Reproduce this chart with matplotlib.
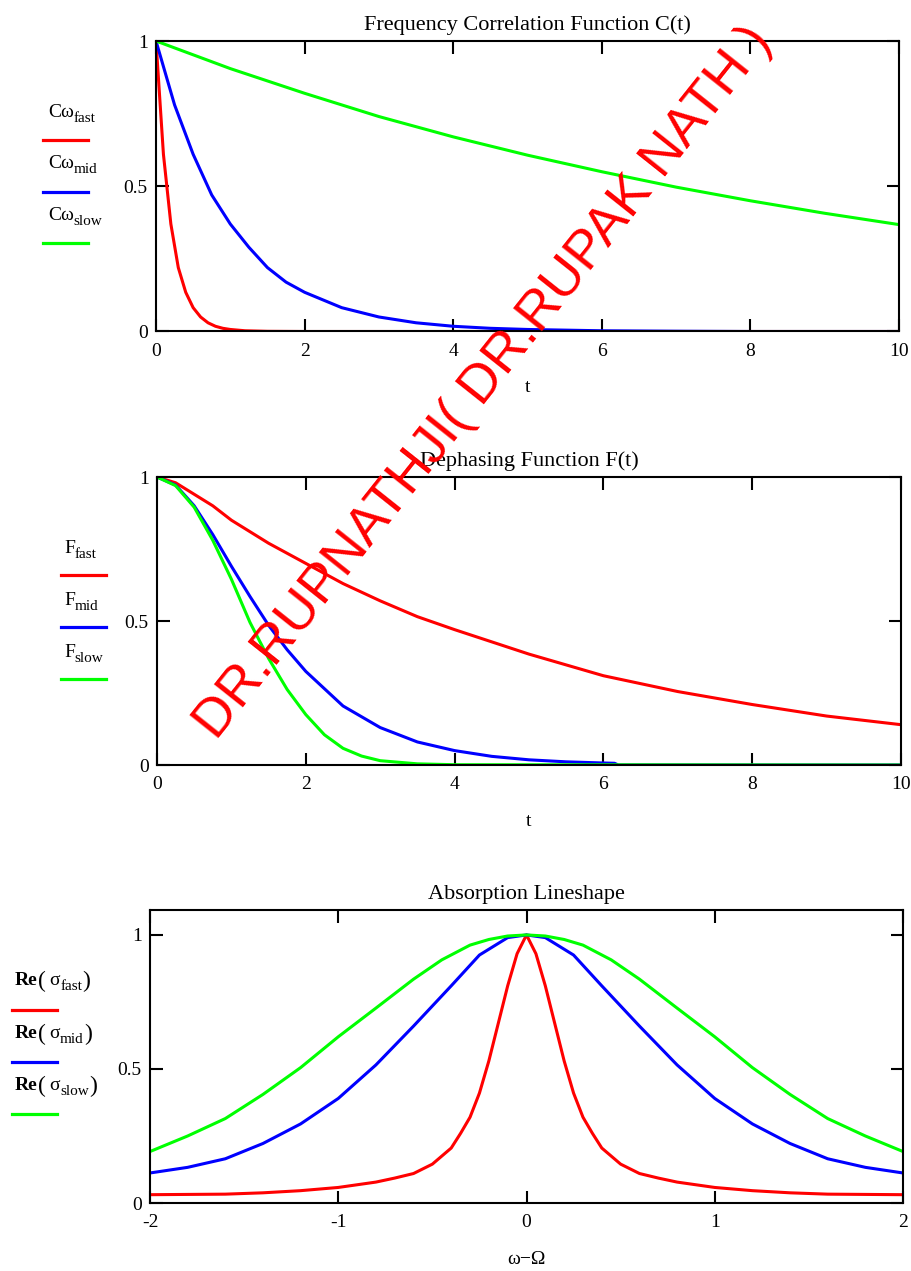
import matplotlib
matplotlib.use("Agg")
import matplotlib.pyplot as plt
from matplotlib.lines import Line2D

plt.rcParams.update({
    "font.family": "Liberation Serif",
    "axes.unicode_minus": False,
})

RED, BLUE, GREEN = "#FF0000", "#0000FF", "#00FF00"

# ---------- data -----------------------------------------------------------
# frequency correlation function C(t)
t_c_fast = [0, 0.1, 0.2, 0.3, 0.4, 0.5, 0.6, 0.7, 0.8, 0.9, 1.0, 1.2, 1.5, 2, 10]
c_fast = [1, 0.61, 0.37, 0.22, 0.135, 0.082, 0.05, 0.03, 0.018, 0.011, 0.007,
          0.0025, 0.0006, 0, 0]
t_c_mid = [0, 0.25, 0.5, 0.75, 1, 1.25, 1.5, 1.75, 2, 2.5, 3, 3.5, 4, 4.5, 5,
           6, 7, 8, 10]
c_mid = [1, 0.78, 0.61, 0.47, 0.37, 0.29, 0.22, 0.17, 0.135, 0.082, 0.05, 0.03,
         0.018, 0.011, 0.007, 0.0025, 0.001, 0, 0]
t_c_slow = [0, 1, 2, 3, 4, 5, 6, 7, 8, 9, 10]
c_slow = [1, 0.905, 0.82, 0.74, 0.67, 0.607, 0.55, 0.497, 0.45, 0.407, 0.368]

# dephasing function F(t)
t_f_fast = [0, 0.25, 0.5, 0.75, 1, 1.5, 2, 2.5, 3, 3.5, 4, 5, 6, 7, 8, 9, 10]
f_fast = [1, 0.98, 0.94, 0.90, 0.85, 0.77, 0.70, 0.63, 0.57, 0.515, 0.47,
          0.385, 0.31, 0.255, 0.21, 0.17, 0.14]
t_f_mid = [0, 0.25, 0.5, 0.75, 1, 1.25, 1.5, 1.75, 2, 2.5, 3, 3.5, 4, 4.5, 5,
           5.5, 6, 6.15, 6.2, 10]
f_mid = [1, 0.972, 0.90, 0.80, 0.69, 0.585, 0.485, 0.40, 0.325, 0.205, 0.13,
         0.08, 0.05, 0.03, 0.018, 0.011, 0.007, 0.006, 0, 0]
t_f_slow = [0, 0.25, 0.5, 0.75, 1, 1.25, 1.5, 1.75, 2, 2.25, 2.5, 2.75, 3, 3.5,
            4, 10]
f_slow = [1, 0.97, 0.895, 0.78, 0.645, 0.495, 0.37, 0.262, 0.175, 0.105, 0.058,
          0.031, 0.015, 0.004, 0.001, 0]

# absorption lineshape Re(sigma)
w_fast = [-2, -1.6, -1.4, -1.2, -1.0, -0.8, -0.7, -0.6, -0.5, -0.4, -0.35, -0.3,
          -0.25, -0.2, -0.15, -0.1, -0.05, 0, 0.05, 0.1, 0.15, 0.2, 0.25, 0.3,
          0.35, 0.4, 0.5, 0.6, 0.7, 0.8, 1.0, 1.2, 1.4, 1.6, 2]
s_fast = [0.031, 0.033, 0.038, 0.046, 0.058, 0.078, 0.093, 0.11, 0.145, 0.205,
          0.26, 0.32, 0.41, 0.53, 0.67, 0.81, 0.93, 1.0, 0.93, 0.81, 0.67, 0.53,
          0.41, 0.32, 0.26, 0.205, 0.145, 0.11, 0.093, 0.078, 0.058, 0.046,
          0.038, 0.033, 0.031]
w_mid = [-2, -1.8, -1.6, -1.4, -1.2, -1.0, -0.8, -0.6, -0.4, -0.25, -0.1, 0,
         0.1, 0.25, 0.4, 0.6, 0.8, 1.0, 1.2, 1.4, 1.6, 1.8, 2]
s_mid = [0.112, 0.133, 0.165, 0.222, 0.295, 0.39, 0.515, 0.66, 0.81, 0.925,
         0.99, 1.0, 0.99, 0.925, 0.81, 0.66, 0.515, 0.39, 0.295, 0.222, 0.165,
         0.133, 0.112]
w_slow = [-2, -1.8, -1.6, -1.4, -1.2, -1.0, -0.8, -0.6, -0.45, -0.3, -0.2, -0.1,
          0, 0.1, 0.2, 0.3, 0.45, 0.6, 0.8, 1.0, 1.2, 1.4, 1.6, 1.8, 2]
s_slow = [0.192, 0.25, 0.315, 0.405, 0.505, 0.62, 0.727, 0.835, 0.907, 0.962,
          0.983, 0.996, 1.0, 0.996, 0.983, 0.962, 0.907, 0.835, 0.727, 0.62,
          0.505, 0.405, 0.315, 0.25, 0.192]

W, H = 912, 1271
fig = plt.figure(figsize=(W / 100, H / 100), dpi=100, facecolor="white")
renderer = fig.canvas.get_renderer()


def box(l, t, r, b):
    return [l / W, 1 - b / H, (r - l) / W, (b - t) / H]


def style(ax, xt, yt, xlim, ylim, title, xlabel):
    ax.set_xlim(*xlim); ax.set_ylim(*ylim)
    ax.set_xticks(xt); ax.set_yticks(yt)
    ax.set_xticklabels([f"{v:g}" for v in xt])
    ax.set_yticklabels([f"{v:g}" for v in yt])
    ax.tick_params(direction="in", length=9, width=1.5, top=True, right=True,
                   labelsize=14, color="black")
    ax.tick_params(axis="x", pad=8)
    ax.tick_params(axis="y", pad=6)
    for sp in ax.spines.values():
        sp.set_linewidth(1.5)
    ax.set_title(title, fontsize=16, pad=8)
    ax.set_xlabel(xlabel, fontsize=14, labelpad=14)


def label(x, base, parts):
    # parts: (text, fontsize, drop in px, weight, gap before in px)
    cur = x
    for txt, size, dy, weight, gap in parts:
        cur += gap
        t = fig.text(cur / W, 1 - (base + dy) / H, txt, fontsize=size,
                     fontweight=weight, va="baseline", ha="left")
        cur = t.get_window_extent(renderer).x1


def legend(entries, x_text, x0, x1):
    for parts, color, base, ly in entries:
        label(x_text, base, parts)
        fig.add_artist(Line2D([x0 / W, x1 / W], [1 - ly / H, 1 - ly / H],
                              color=color, lw=2.3, transform=fig.transFigure))


def c_parts(name):
    return [("Cω", 14, 0, "normal", 0), (name, 11, 5, "normal", 0)]


def f_parts(name):
    return [("F", 14, 0, "normal", 0), (name, 11, 5, "normal", 0)]


def re_parts(name):
    return [("Re", 14, 0, "bold", 0), ("(", 17, 2, "normal", 0),
            ("σ", 14, 0, "normal", 4), (name, 11, 5, "normal", 0),
            (")", 17, 2, "normal", 0)]


LW = 2.2

# ---------- C(t) -----------------------------------------------------------
ax1 = fig.add_axes(box(156, 41, 899, 331.5))
ax1.plot(t_c_fast, c_fast, color=RED, lw=LW)
ax1.plot(t_c_mid, c_mid, color=BLUE, lw=LW)
ax1.plot(t_c_slow, c_slow, color=GREEN, lw=LW)
style(ax1, [0, 2, 4, 6, 8, 10], [0, 0.5, 1], (0, 10), (0, 1),
      "Frequency Correlation Function C(t)", "t")
legend([(c_parts("fast"), RED, 117, 140),
        (c_parts("mid"), BLUE, 168, 192),
        (c_parts("slow"), GREEN, 220, 243)], 48, 43, 88)

# ---------- F(t) -----------------------------------------------------------
ax2 = fig.add_axes(box(157, 477, 901, 765))
ax2.plot(t_f_fast, f_fast, color=RED, lw=LW)
ax2.plot(t_f_mid, f_mid, color=BLUE, lw=LW)
ax2.plot(t_f_slow, f_slow, color=GREEN, lw=LW)
style(ax2, [0, 2, 4, 6, 8, 10], [0, 0.5, 1], (0, 10), (0, 1),
      "Dephasing Function F(t)", "t")
legend([(f_parts("fast"), RED, 553, 575),
        (f_parts("mid"), BLUE, 605, 627),
        (f_parts("slow"), GREEN, 657, 679)], 64, 61, 106)

# ---------- lineshape ------------------------------------------------------
ax3 = fig.add_axes(box(150, 910, 903, 1203))
ax3.plot(w_fast, s_fast, color=RED, lw=LW)
ax3.plot(w_mid, s_mid, color=BLUE, lw=LW)
ax3.plot(w_slow, s_slow, color=GREEN, lw=LW)
style(ax3, [-2, -1, 0, 1, 2], [0, 0.5, 1], (-2, 2), (0, 1.093),
      "Absorption Lineshape", "ω−Ω")
legend([(re_parts("fast"), RED, 985, 1010),
        (re_parts("mid"), BLUE, 1038, 1062),
        (re_parts("slow"), GREEN, 1090, 1114)], 15, 12, 57)

# ---------- watermark ------------------------------------------------------
fig.text(484 / W, 1 - 383 / H, "DR.RUPNATHJI( DR.RUPAK NATH )", color=RED,
         fontsize=39, family="Liberation Sans", rotation=51.5,
         rotation_mode="anchor", ha="center", va="center", zorder=10)

fig.savefig("out.png", dpi=100, facecolor="white")
